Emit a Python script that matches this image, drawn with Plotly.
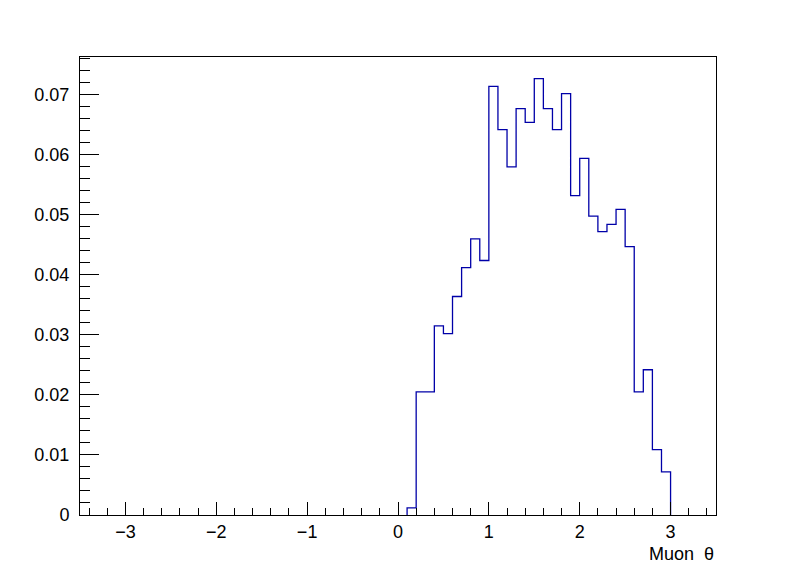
import numpy as np
import plotly.graph_objects as go

# Muon theta histogram, 0.1 wide bins starting at 0.1
bin_start = 0.1
bin_width = 0.1
counts = [0.0012, 0.0205, 0.0205, 0.0315, 0.0302, 0.0364, 0.0412, 0.0460, 0.0424,
          0.0714, 0.0642, 0.0580, 0.0677, 0.0654, 0.0727, 0.0677, 0.0642, 0.0702,
          0.0532, 0.0594, 0.0498, 0.0472, 0.0484, 0.0509, 0.0447, 0.0205, 0.0242,
          0.0109, 0.0072]

x_title = "Muon\u00a0\u00a0θ"

edges = bin_start + bin_width * np.arange(len(counts) + 1)
xs = [edges[0]] + list(edges)
ys = [0] + counts + [0]

fig = go.Figure()
fig.add_trace(go.Scatter(x=xs, y=ys, mode='lines', line_shape='hv',
                         line=dict(color='#0000a8', width=1.3), showlegend=False))

font = dict(family='Liberation Sans, Arial, sans-serif', size=18, color='black')

# page body has an 8px margin, so the figure is a bit smaller than the window
fig.update_layout(
    width=788, height=564,
    margin=dict(l=72, r=80, t=49, b=57),
    paper_bgcolor='white', plot_bgcolor='white',
    font=font,
    xaxis=dict(range=[-3.5, 3.5], tickvals=[-3, -2, -1, 0, 1, 2, 3],
               ticktext=['\u22123', '\u22122', '\u22121', '0', '1', '2', '3'],
               ticks='inside', ticklen=13, tickcolor='black', tickwidth=1,
               minor=dict(dtick=0.2, tick0=0, ticks='inside', ticklen=7, tickcolor='black'),
               showgrid=False, zeroline=False, showline=True, linecolor='black',
               linewidth=1, mirror=True, ticklabelstandoff=0),
    yaxis=dict(range=[0, 0.0763], dtick=0.01, tickformat='.2f',
               ticks='inside', ticklen=19, tickcolor='black', tickwidth=1,
               minor=dict(dtick=0.002, ticks='inside', ticklen=10, tickcolor='black'),
               showgrid=False, zeroline=False, showline=True, linecolor='black',
               linewidth=1, mirror=True, ticklabelstandoff=6),
)
fig.update_yaxes(labelalias={'0.00': '0'})

fig.add_annotation(text=x_title, xref='paper', yref='paper', x=1, y=-0.06,
                   xanchor='right', yanchor='top', showarrow=False, font=font)

fig.write_html("out.html")
